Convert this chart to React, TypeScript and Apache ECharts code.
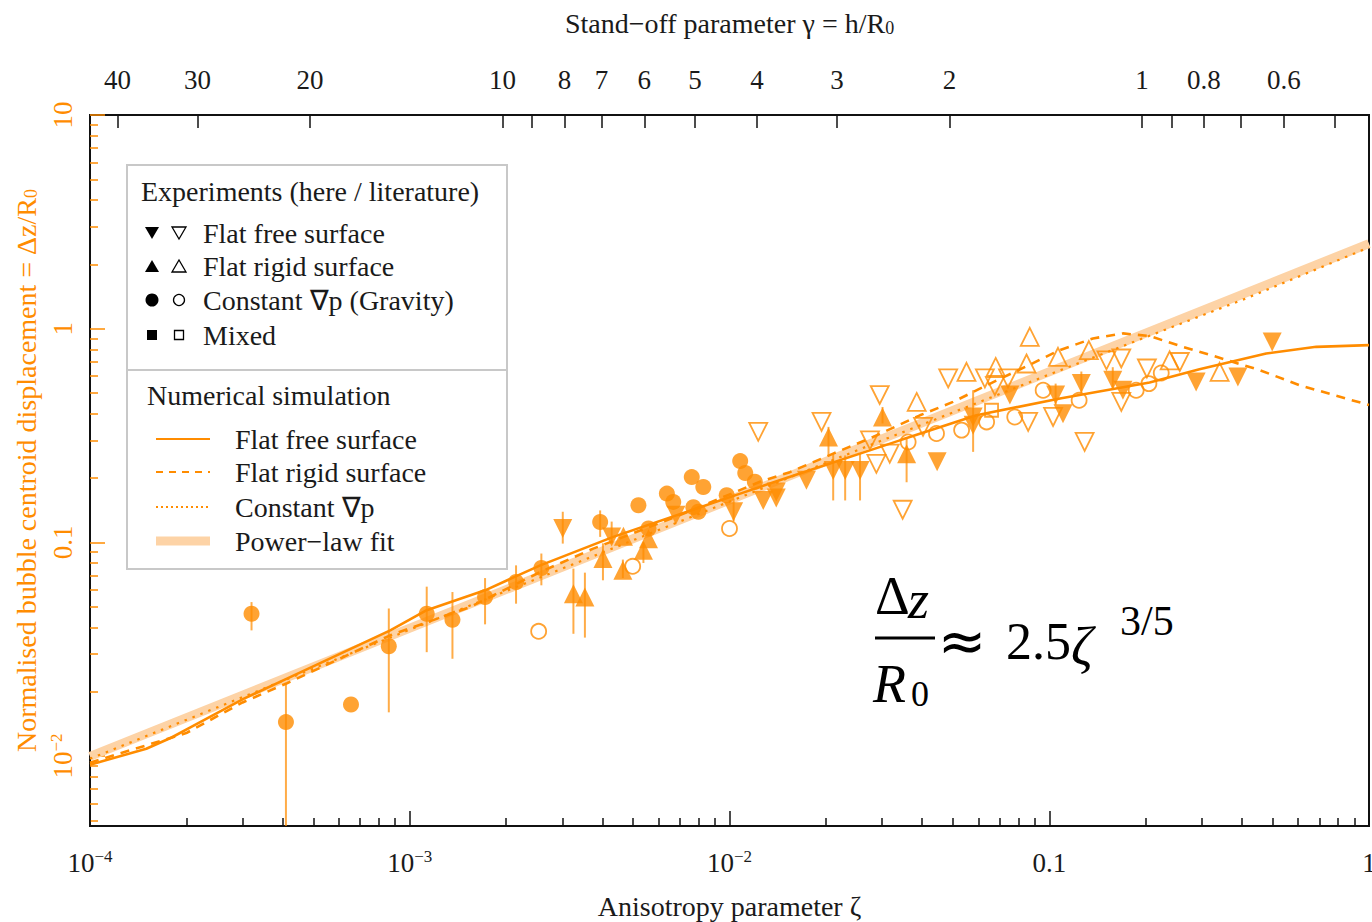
import React, { useEffect, useRef } from 'react';
import * as echarts from 'echarts';

// ---------- colours / fonts ----------
const ORANGE = '#FF8C00';
const ERR_COLOR = 'rgba(255,140,0,0.72)';
const FIT_COLOR = '#FDD3A6';
const INK = '#1a1a1a';
const SERIF = '"Liberation Serif", "Times New Roman", serif';

// ---------- axis ranges and ticks ----------
const X_MIN = 1e-4;
const X_MAX = 1;
const Y_MIN = 0.0047;
const Y_MAX = 10;
// stand-off parameter gamma at the two ends of the zeta axis
const GAMMA_AT_X_MIN = 44.16;
const GAMMA_AT_X_MAX = 0.4416;

const X_MINOR_TICKS = [
  2e-4, 3e-4, 4e-4, 5e-4, 6e-4, 7e-4, 8e-4, 9e-4,
  2e-3, 3e-3, 4e-3, 5e-3, 6e-3, 7e-3, 8e-3, 9e-3,
  0.02, 0.03, 0.04, 0.05, 0.06, 0.07, 0.08, 0.09,
  0.2, 0.3, 0.4, 0.5, 0.6, 0.7, 0.8, 0.9,
];
const Y_MINOR_TICKS = [
  0.005, 0.006, 0.007, 0.008, 0.009,
  0.02, 0.03, 0.04, 0.05, 0.06, 0.07, 0.08, 0.09,
  0.2, 0.3, 0.4, 0.5, 0.6, 0.7, 0.8, 0.9,
  2, 3, 4, 5, 6, 7, 8, 9,
];
const GAMMA_TICKS = [40, 30, 20, 10, 9, 8, 7, 6, 5, 4, 3, 2, 1, 0.9, 0.8, 0.7, 0.6, 0.5];
const GAMMA_LABELS = [40, 30, 20, 10, 8, 7, 6, 5, 4, 3, 2, 1, 0.8, 0.6];

// ---------- numerical simulation curves [zeta, dz/R0] ----------
const POWER_LAW_FIT = [[1e-4, 0.00995], [1, 2.5]];
const SIM_FREE = [
  [1e-4, 0.0091], [1.5e-4, 0.0108], [1.8e-4, 0.0122], [2.06e-4, 0.0136], [3.02e-4, 0.0185],
  [4.13e-4, 0.023], [8.69e-4, 0.0387], [1.13e-3, 0.0481], [1.72e-3, 0.0596], [2.56e-3, 0.078],
  [4.33e-3, 0.106], [1.08e-2, 0.169], [1.66e-2, 0.21], [3.41e-2, 0.3], [5.92e-2, 0.393],
  [0.108, 0.471], [0.206, 0.56], [0.295, 0.645], [0.477, 0.765], [0.684, 0.822], [1, 0.837],
];
const SIM_RIGID = [
  [1e-4, 0.0093], [2e-4, 0.0128], [3e-4, 0.0178], [4.13e-4, 0.0219], [8.69e-4, 0.0367],
  [1.545e-3, 0.0498], [2.56e-3, 0.0726], [3.75e-3, 0.0934], [7.0e-3, 0.134], [1.245e-2, 0.192],
  [1.545e-2, 0.213], [2.11e-2, 0.26], [2.81e-2, 0.311], [3.94e-2, 0.393], [5.0e-2, 0.454],
  [6.37e-2, 0.543], [8.9e-2, 0.69], [0.107, 0.79], [0.137, 0.9], [0.17, 0.95], [0.206, 0.923],
  [0.262, 0.822], [0.333, 0.738], [0.455, 0.64], [0.607, 0.543], [1, 0.439],
];
const SIM_GRADIENT = [
  [1e-4, 0.0097], [1e-3, 0.039], [1e-2, 0.155], [3e-2, 0.3], [0.1, 0.61], [0.4, 1.36], [1, 2.4],
];

// ---------- experiments [zeta, dz/R0] ----------
const FREE_HERE = [
  [3.01e-3, 0.116], [4.28e-3, 0.106], [6.8e-3, 0.134], [1.03e-2, 0.139], [1.275e-2, 0.157],
  [1.4e-2, 0.172], [1.4e-2, 0.161], [1.74e-2, 0.195], [2.11e-2, 0.217], [2.3e-2, 0.217],
  [2.56e-2, 0.217], [4.46e-2, 0.238], [5.78e-2, 0.386], [5.78e-2, 0.353], [7.53e-2, 0.489],
  [0.1047, 0.489], [0.1104, 0.4], [0.126, 0.553], [0.158, 0.574], [0.17, 0.515],
  [0.288, 0.563], [0.389, 0.594], [0.498, 0.867],
];
const FREE_LIT = [
  [1.23e-2, 0.329], [1.94e-2, 0.366], [2.95e-2, 0.489], [2.88e-2, 0.233], [2.75e-2, 0.3],
  [3.17e-2, 0.26], [3.48e-2, 0.142], [4.03e-2, 0.347], [4.83e-2, 0.585], [6.29e-2, 0.585],
  [6.76e-2, 0.538], [7.43e-2, 0.585], [8.59e-2, 0.366], [0.1028, 0.386], [0.129, 0.295],
  [0.151, 0.711], [0.168, 0.725], [0.168, 0.454], [0.202, 0.651], [0.256, 0.698],
];
const RIGID_HERE = [
  [3.25e-3, 0.0575], [3.53e-3, 0.0554], [4.02e-3, 0.0839], [4.66e-3, 0.1067], [4.64e-3, 0.0739],
  [5.38e-3, 0.0918], [5.58e-3, 0.104], [2.04e-2, 0.311], [3.01e-2, 0.386], [3.58e-2, 0.26],
];
const RIGID_LIT = [
  [3.85e-2, 0.454], [5.51e-2, 0.628], [6.8e-2, 0.662], [8.49e-2, 0.687], [8.69e-2, 0.916],
  [0.1065, 0.738], [0.133, 0.794], [0.238, 0.711], [0.341, 0.628],
];
const GRAVITY_HERE = [
  [3.2e-4, 0.0463], [4.1e-4, 0.0144], [6.55e-4, 0.0174], [8.6e-4, 0.0326], [1.13e-3, 0.0463],
  [1.36e-3, 0.0434], [1.72e-3, 0.0554], [2.15e-3, 0.0652], [2.58e-3, 0.0758], [3.94e-3, 0.1245],
  [5.19e-3, 0.149], [5.58e-3, 0.116], [6.37e-3, 0.169], [6.67e-3, 0.1545], [7.62e-3, 0.202],
  [8.28e-3, 0.1815], [7.71e-3, 0.146], [7.99e-3, 0.139], [9.8e-3, 0.166], [1.08e-2, 0.24],
  [1.12e-2, 0.211], [1.2e-2, 0.192],
];
const GRAVITY_LIT = [
  [2.53e-3, 0.0383], [4.98e-3, 0.0772], [1.0e-2, 0.116], [3.62e-2, 0.295], [4.44e-2, 0.323],
  [5.32e-2, 0.335], [6.37e-2, 0.366], [7.8e-2, 0.386], [9.57e-2, 0.515], [0.124, 0.462],
  [0.187, 0.515], [0.205, 0.553], [0.224, 0.62],
];
const MIXED_LIT = [[6.6e-2, 0.415]];

// error bars [zeta, low, high]
const ERROR_BARS = [
  [3.2e-4, 0.0387, 0.0525], [4.1e-4, 0.0047, 0.0218], [8.6e-4, 0.016, 0.049],
  [1.13e-3, 0.0306, 0.062], [1.36e-3, 0.0285, 0.0585], [1.72e-3, 0.0413, 0.068],
  [2.15e-3, 0.0516, 0.078], [2.58e-3, 0.0629, 0.0886], [3.94e-3, 0.106, 0.141],
  [3.01e-3, 0.0986, 0.139], [4.28e-3, 0.0987, 0.125], [3.25e-3, 0.0373, 0.0753],
  [3.53e-3, 0.0358, 0.0721], [4.02e-3, 0.0664, 0.0989], [4.64e-3, 0.068, 0.083],
  [5.38e-3, 0.08, 0.1], [1.03e-2, 0.125, 0.16], [2.04e-2, 0.255, 0.347],
  [2.11e-2, 0.157, 0.26], [2.3e-2, 0.157, 0.255], [2.56e-2, 0.157, 0.26],
  [3.01e-2, 0.36, 0.43], [3.58e-2, 0.191, 0.311], [5.78e-2, 0.265, 0.515],
  [0.1047, 0.44, 0.553], [0.126, 0.5, 0.63], [0.158, 0.52, 0.66],
];

// ---------- helpers ----------
const TICK_FS = 27;
const NAME_FS = 28;
const LEG_FS = 28;
const supRich = (color: string) => ({
  b: { fontFamily: SERIF, fontSize: TICK_FS, color, lineHeight: 30 },
  s: { fontFamily: SERIF, fontSize: 17, color, lineHeight: 17, verticalAlign: 'top' as const },
});
function logLabel(v: number): string {
  if (v >= 0.05) return '{b|' + String(Math.round(v * 10) / 10) + '}';
  const e = Math.round(Math.log10(v));
  return '{b|10}{s|−' + String(-e) + '}';
}

function makeOption() {
  const filledStyle = { color: ORANGE };
  const openStyle = { color: 'rgba(255,255,255,0)', borderColor: ORANGE, borderWidth: 1.8 };

  const graphic: any[] = [];
  // legend box
  const lx = 127, ly = 165, lw = 380, lh = 404;
  const t = (x: number, y: number, text: string, size = LEG_FS) => ({
    type: 'text', x, y, z: 100,
    style: { text, fontFamily: SERIF, fontSize: size, fill: INK, verticalAlign: 'middle' },
  });
  graphic.push({ type: 'rect', z: 90, shape: { x: lx, y: ly, width: lw, height: lh },
    style: { fill: '#fff', stroke: '#c8c8c8', lineWidth: 2 } });
  graphic.push({ type: 'line', z: 91, shape: { x1: lx, y1: 370, x2: lx + lw, y2: 370 },
    style: { stroke: '#c8c8c8', lineWidth: 2 } });
  graphic.push(t(141, 191, 'Experiments (here / literature)'));
  const rows = [233, 266, 300, 335];
  const rowText = ['Flat free surface', 'Flat rigid surface', 'Constant ∇p (Gravity)', 'Mixed'];
  rows.forEach((yy, i) => graphic.push(t(203, yy, rowText[i])));
  const tri = (cx: number, cy: number, down: boolean, filled: boolean) => ({
    type: 'polygon', z: 100,
    shape: { points: down
      ? [[cx - 7, cy - 6], [cx + 7, cy - 6], [cx, cy + 6]]
      : [[cx - 7, cy + 6], [cx + 7, cy + 6], [cx, cy - 6]] },
    style: filled ? { fill: '#000' } : { fill: 'none', stroke: '#000', lineWidth: 1.3 },
  });
  graphic.push(tri(152, rows[0], true, true), tri(179, rows[0], true, false));
  graphic.push(tri(152, rows[1], false, true), tri(179, rows[1], false, false));
  graphic.push({ type: 'circle', z: 100, shape: { cx: 152, cy: rows[2], r: 6.5 }, style: { fill: '#000' } });
  graphic.push({ type: 'circle', z: 100, shape: { cx: 179, cy: rows[2], r: 5.5 },
    style: { fill: 'none', stroke: '#000', lineWidth: 1.3 } });
  graphic.push({ type: 'rect', z: 100, shape: { x: 147, y: rows[3] - 5, width: 10, height: 10 }, style: { fill: '#000' } });
  graphic.push({ type: 'rect', z: 100, shape: { x: 174.5, y: rows[3] - 4.5, width: 9, height: 9 },
    style: { fill: 'none', stroke: '#000', lineWidth: 1.3 } });

  graphic.push(t(147, 395, 'Numerical simulation'));
  const nrows = [439, 472, 507, 541];
  const ntext = ['Flat free surface', 'Flat rigid surface', 'Constant ∇p', 'Power−law fit'];
  nrows.forEach((yy, i) => graphic.push(t(235, yy, ntext[i])));
  graphic.push({ type: 'line', z: 100, shape: { x1: 156, y1: nrows[0], x2: 210, y2: nrows[0] },
    style: { stroke: ORANGE, lineWidth: 2.2 } });
  graphic.push({ type: 'line', z: 100, shape: { x1: 156, y1: nrows[1], x2: 210, y2: nrows[1] },
    style: { stroke: ORANGE, lineWidth: 2, lineDash: [7, 6] } });
  graphic.push({ type: 'line', z: 100, shape: { x1: 156, y1: nrows[2], x2: 210, y2: nrows[2] },
    style: { stroke: ORANGE, lineWidth: 1.8, lineDash: [2, 3] } });
  graphic.push({ type: 'line', z: 100, shape: { x1: 156, y1: nrows[3], x2: 210, y2: nrows[3] },
    style: { stroke: FIT_COLOR, lineWidth: 9 } });

  // formula  dz/R0 ~ 2.5 zeta^(3/5)
  const m = (x: number, y: number, text: string, size: number, extra: any = {}) => ({
    type: 'text', x, y, z: 100,
    style: { text, fontFamily: SERIF, fontSize: size, fill: '#000', verticalAlign: 'middle', ...extra },
  });
  graphic.push(m(875, 596, 'Δ', 54));
  graphic.push(m(908, 600, 'z', 54, { fontStyle: 'italic' }));
  graphic.push({ type: 'line', z: 100, shape: { x1: 875, y1: 638, x2: 935, y2: 638 },
    style: { stroke: '#000', lineWidth: 3 } });
  graphic.push(m(873, 684, 'R', 54, { fontStyle: 'italic' }));
  graphic.push(m(911, 694, '0', 36));
  graphic.push(m(962, 641, '≈', 58, { fontFamily: '"DejaVu Sans", sans-serif', align: 'center' }));
  graphic.push(m(1006, 641, '2.5', 52));
  graphic.push(m(1071, 647, 'ζ', 54, { fontStyle: 'italic' }));
  graphic.push(m(1120, 621, '3/5', 42));

  const lineSeries = (data: number[][], style: any, z = 2) => ({
    type: 'line', data, showSymbol: false, symbol: 'none', lineStyle: style, z, silent: true,
  });
  const scatter = (data: number[][], symbol: string, size: number, rotate: number, itemStyle: any) => ({
    type: 'scatter', data, symbol, symbolSize: size, symbolRotate: rotate, itemStyle, z: 5,
  });

  return {
    animation: false,
    backgroundColor: '#fff',
    grid: { left: 90, right: 3, top: 115, bottom: 96, show: true, borderColor: '#111', borderWidth: 2,
      backgroundColor: 'rgba(0,0,0,0)', outerBoundsMode: 'none', containLabel: false },
    xAxis: [
      {
        type: 'log', position: 'bottom', min: X_MIN, max: X_MAX,
        axisLine: { show: false },
        axisTick: { inside: true, length: 15, lineStyle: { color: '#111', width: 1.5 } },
        axisLabel: { margin: 22, formatter: logLabel, rich: supRich(INK), showMinLabel: true, showMaxLabel: true,
          hideOverlap: false },
        splitLine: { show: false },
        name: 'Anisotropy parameter ζ', nameLocation: 'middle', nameGap: 66,
        nameTextStyle: { fontFamily: SERIF, fontSize: NAME_FS, color: INK },
      },
      {
        type: 'log', position: 'bottom', min: X_MIN, max: X_MAX,
        axisLine: { show: false }, axisLabel: { show: false }, splitLine: { show: false },
        axisTick: { inside: true, length: 8, customValues: X_MINOR_TICKS, lineStyle: { color: '#111', width: 1.5 } },
      },
      {
        type: 'log', position: 'top', inverse: true, min: GAMMA_AT_X_MAX, max: GAMMA_AT_X_MIN,
        axisLine: { show: false }, splitLine: { show: false },
        axisTick: { inside: true, length: 13, customValues: GAMMA_TICKS, lineStyle: { color: '#111', width: 1.5 } },
        axisLabel: { customValues: GAMMA_LABELS, margin: 22, fontFamily: SERIF, fontSize: TICK_FS, color: INK,
          formatter: (v: number) => String(Math.round(v * 10) / 10) },
        name: '{n|Stand−off parameter γ = h/R}{s|0}', nameLocation: 'middle', nameGap: 78,
        nameTextStyle: { rich: {
          n: { fontFamily: SERIF, fontSize: NAME_FS, color: INK },
          s: { fontFamily: SERIF, fontSize: 18, color: INK, verticalAlign: 'bottom', lineHeight: 20 },
        } },
      },
    ],
    yAxis: [
      {
        type: 'log', position: 'left', min: Y_MIN, max: Y_MAX,
        axisLine: { show: false }, splitLine: { show: false },
        axisTick: { inside: true, length: 15, lineStyle: { color: ORANGE, width: 1.5 } },
        axisLabel: { rotate: 90, margin: 12, showMinLabel: false, formatter: logLabel, rich: supRich(ORANGE) },
        name: '{n|Normalised bubble centroid displacement = Δz/R}{s|0}', nameLocation: 'middle', nameRotate: 90,
        nameGap: 50,
        nameTextStyle: { rich: {
          n: { fontFamily: SERIF, fontSize: NAME_FS, color: ORANGE },
          s: { fontFamily: SERIF, fontSize: 18, color: ORANGE, verticalAlign: 'bottom', lineHeight: 20 },
        } },
      },
      {
        type: 'log', position: 'left', min: Y_MIN, max: Y_MAX,
        axisLine: { show: false }, axisLabel: { show: false }, splitLine: { show: false },
        axisTick: { inside: true, length: 8, customValues: Y_MINOR_TICKS, lineStyle: { color: ORANGE, width: 1.5 } },
      },
    ],
    graphic,
    series: [
      lineSeries(POWER_LAW_FIT, { color: FIT_COLOR, width: 9, cap: 'butt' }, 1),
      lineSeries(SIM_GRADIENT, { color: ORANGE, width: 2.2, type: [2.5, 6] }, 2),
      lineSeries(SIM_RIGID, { color: ORANGE, width: 2.6, type: [9, 7] }, 2),
      lineSeries(SIM_FREE, { color: ORANGE, width: 2.6 }, 2),
      {
        type: 'custom', z: 3, silent: true,
        data: ERROR_BARS,
        encode: { x: 0, y: [1, 2] },
        renderItem: (_p: any, api: any) => {
          const a = api.coord([api.value(0), api.value(1)]);
          const b = api.coord([api.value(0), api.value(2)]);
          return { type: 'line', shape: { x1: a[0], y1: a[1], x2: b[0], y2: b[1] },
            style: { stroke: ERR_COLOR, lineWidth: 2 } };
        },
      },
      scatter(GRAVITY_LIT, 'circle', 15, 0, openStyle),
      scatter(MIXED_LIT, 'rect', 13, 0, openStyle),
      scatter(FREE_LIT, 'triangle', 18, 180, openStyle),
      scatter(RIGID_LIT, 'triangle', 18, 0, openStyle),
      scatter(GRAVITY_HERE, 'circle', 16, 0, filledStyle),
      scatter(RIGID_HERE, 'triangle', 19, 0, filledStyle),
      scatter(FREE_HERE, 'triangle', 19, 180, filledStyle),
    ],
  };
}

export default function App() {
  const ref = useRef<HTMLDivElement>(null);
  useEffect(() => {
    if (!ref.current) return;
    const chart = echarts.init(ref.current, null, { renderer: 'svg' });
    chart.setOption(makeOption() as any);
    return () => chart.dispose();
  }, []);
  return <div ref={ref} style={{ position: 'fixed', left: 0, top: 0, width: 1372, height: 922, background: '#fff' }} />;
}
